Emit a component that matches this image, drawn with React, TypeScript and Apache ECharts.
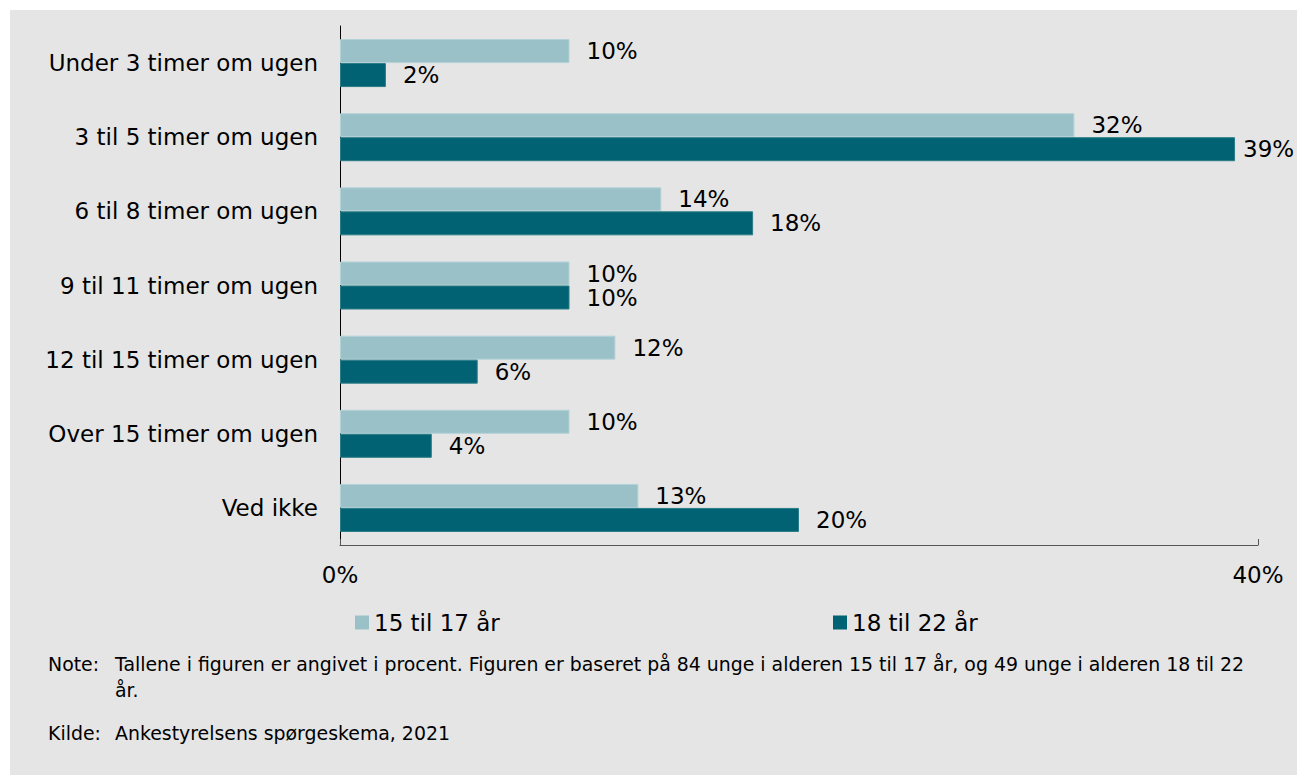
import React, { useEffect, useRef } from "react";
import * as echarts from "echarts";

const categories = [
  "Under 3 timer om ugen",
  "3 til 5 timer om ugen",
  "6 til 8 timer om ugen",
  "9 til 11 timer om ugen",
  "12 til 15 timer om ugen",
  "Over 15 timer om ugen",
  "Ved ikke",
];
const series1Name = "15 til 17 år";
const series2Name = "18 til 22 år";
const values15to17 = [10, 32, 14, 10, 12, 10, 13];
const values18to22 = [2, 39, 18, 10, 6, 4, 20];
const xTicks = [0, 40];

const noteLine1 =
  "Tallene i figuren er angivet i procent. Figuren er baseret på 84 unge i alderen 15 til 17 år, og 49 unge i alderen 18 til 22";
const noteLine2 = "år.";
const sourceText = "Ankestyrelsens spørgeskema, 2021";

const FONT = "'DejaVu Sans', Verdana, sans-serif";
const LIGHT = "#9bc1c8";
const DARK = "#006272";
const FS = 23;
const NFS = 18.9;

export default function App() {
  const ref = useRef<HTMLDivElement>(null);
  useEffect(() => {
    if (!ref.current) return;
    const chart = echarts.init(ref.current, null, { renderer: "svg" });
    const labelBase = {
      show: true,
      position: "right",
      distance: 17,
      fontSize: FS,
      fontFamily: FONT,
      color: "#000",
      formatter: (p: any) => `${p.value}%`,
    };
    const noteStyle = (text: string) => ({
      text,
      fontSize: NFS,
      fontFamily: FONT,
      fill: "#000",
      textVerticalAlign: "middle",
    });
    const legendBase = {
      top: 611,
      padding: 0,
      icon: "rect",
      itemWidth: 14,
      itemHeight: 14,
      itemGap: 0,
      itemStyle: { borderWidth: 0 },
      textStyle: { fontSize: FS, fontFamily: FONT, color: "#000" },
    };
    chart.setOption({
      animation: false,
      backgroundColor: "#ffffff",
      textStyle: { fontFamily: FONT },
      graphic: [
        {
          type: "rect",
          z: -10,
          silent: true,
          shape: { x: 10, y: 10, width: 1287, height: 765 },
          style: { fill: "#e5e5e5" },
        },
        { type: "text", x: 48, y: 664, style: noteStyle("Note:") },
        { type: "text", x: 115, y: 664, style: noteStyle(noteLine1) },
        { type: "text", x: 115, y: 690, style: noteStyle(noteLine2) },
        { type: "text", x: 48, y: 733, style: noteStyle("Kilde:") },
        { type: "text", x: 115, y: 733, style: noteStyle(sourceText) },
      ],
      legend: [
        { ...legendBase, data: [series1Name], left: 355 },
        { ...legendBase, data: [series2Name], left: 833 },
      ],
      grid: { left: 340, right: 39, top: 26, bottom: 230, containLabel: false },
      xAxis: {
        type: "value",
        min: xTicks[0],
        max: xTicks[1],
        interval: 40,
        splitLine: { show: false },
        axisLine: { show: true, lineStyle: { color: "#555", width: 1 } },
        axisTick: { show: true, inside: true, length: 6, lineStyle: { color: "#555" } },
        axisLabel: {
          fontSize: FS,
          fontFamily: FONT,
          color: "#000",
          margin: 18,
          formatter: (v: number) => `${v}%`,
        },
      },
      yAxis: {
        type: "category",
        data: categories,
        inverse: true,
        axisLine: { show: true, lineStyle: { color: "#000", width: 1 } },
        axisTick: { show: false },
        axisLabel: { fontSize: FS, fontFamily: FONT, color: "#000", margin: 22 },
      },
      series: [
        {
          name: series1Name,
          type: "bar",
          data: values15to17,
          barWidth: 24,
          barGap: "0%",
          itemStyle: { color: LIGHT, borderColor: "#b3d2d7", borderWidth: 1 },
          label: labelBase,
        },
        {
          name: series2Name,
          type: "bar",
          data: values18to22.map((v) =>
            v === 39 ? { value: v, label: { distance: 8 } } : v
          ),
          barWidth: 24,
          barGap: "0%",
          itemStyle: { color: DARK, borderColor: "#2a7c87", borderWidth: 1 },
          label: labelBase,
        },
      ],
    });
    return () => chart.dispose();
  }, []);
  return (
    <div
      ref={ref}
      style={{ position: "fixed", left: 0, top: 0, width: 1297, height: 775 }}
    />
  );
}
